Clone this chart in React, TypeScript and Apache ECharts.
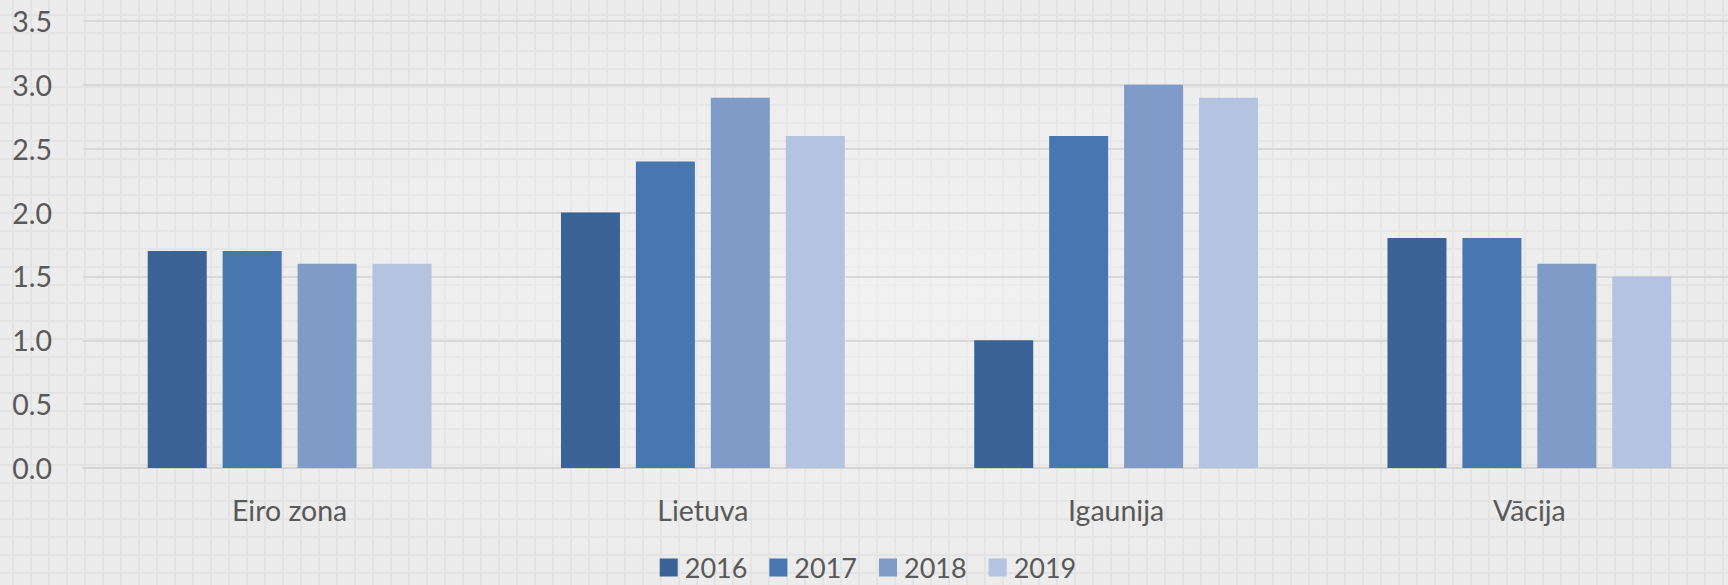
import React, { useEffect, useRef } from "react";
import * as echarts from "echarts";

const categories = ["Eiro zona", "Lietuva", "Igaunija", "Vācija"];
const seriesNames = ["2016", "2017", "2018", "2019"];
const v2016 = [1.7, 2.0, 1.0, 1.8];
const v2017 = [1.7, 2.4, 2.6, 1.8];
const v2018 = [1.6, 2.9, 3.0, 1.6];
const v2019 = [1.6, 2.6, 2.9, 1.5];
const colors = ["#3B6396", "#4877B0", "#7F9CC8", "#B4C3DF"];

export default function App() {
  const ref = useRef<HTMLDivElement>(null);
  useEffect(() => {
    if (!ref.current) return;
    const chart = echarts.init(ref.current, undefined, { renderer: "svg" });
    const data = [v2016, v2017, v2018, v2019];
    const font = "Lato, Carlito, 'Liberation Sans', sans-serif";
    chart.setOption({
      animation: false,
      backgroundColor: "transparent",
      textStyle: { fontFamily: font },
      grid: { left: 83, right: 0, top: 21, bottom: 117, containLabel: false },
      legend: {
        top: 554,
        left: "center",
        padding: 0,
        itemWidth: 18,
        itemHeight: 18,
        itemGap: 22,
        icon: "rect",
        textStyle: {
          fontSize: 27,
          lineHeight: 26,
          color: "#595959",
          fontFamily: font,
          padding: [0, 0, 0, 2],
        },
        data: seriesNames,
      },
      xAxis: {
        type: "category",
        data: categories,
        axisLine: { lineStyle: { color: "#d4d4d4", width: 2 } },
        axisTick: { show: false },
        axisLabel: { fontSize: 28.5, color: "#595959", margin: 27, fontFamily: font },
      },
      yAxis: {
        type: "value",
        min: 0,
        max: 3.5,
        interval: 0.5,
        axisLine: { show: false },
        axisTick: { show: false },
        axisLabel: {
          fontSize: 28.5,
          color: "#595959",
          margin: 31,
          fontFamily: font,
          formatter: (v: number) => v.toFixed(1),
        },
        splitLine: { lineStyle: { color: "#d8d8d8", width: 2 } },
      },
      series: seriesNames.map((name, i) => ({
        name,
        type: "bar",
        data: data[i],
        barWidth: 59,
        barGap: "27%",
        itemStyle: { color: colors[i] },
      })),
    });
    return () => chart.dispose();
  }, []);
  return (
    <div
      style={{
        position: "fixed",
        left: 0,
        top: 0,
        width: 1728,
        height: 585,
        overflow: "hidden",
        backgroundColor: "#ececec",
        backgroundImage:
          "radial-gradient(ellipse at center, rgba(245,245,245,0.6) 0%, rgba(235,235,235,0) 70%), linear-gradient(to right, #e3e3e3 2px, transparent 2px), linear-gradient(to bottom, #e3e3e3 2px, transparent 2px)",
        backgroundSize: "100% 100%, 18px 18px, 18px 18px",
        backgroundPosition: "0 0, 12px 14px, 12px 14px",
      }}
    >
      <div ref={ref} style={{ width: 1736, height: 585 }} />
    </div>
  );
}
